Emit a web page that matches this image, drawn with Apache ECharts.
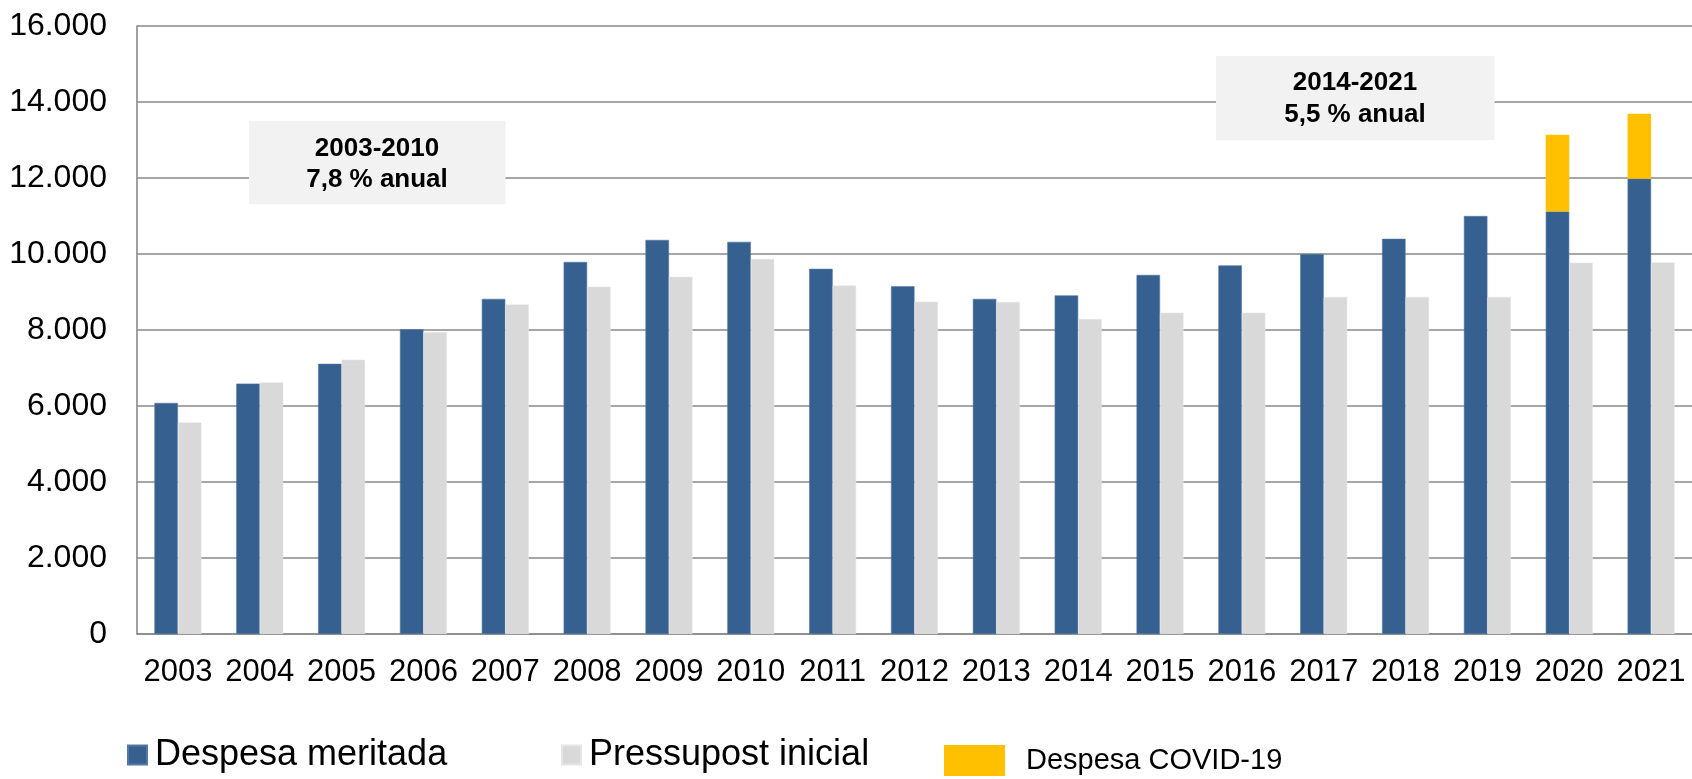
<!DOCTYPE html>
<html>
<head>
<meta charset="utf-8">
<script src="https://cdn.jsdelivr.net/npm/echarts@6/dist/echarts.min.js"></script>
<style>
html,body{margin:0;padding:0;background:#fff;}
#chart{width:1692px;height:779px;}
</style>
</head>
<body>
<div id="chart"></div>
<script>
const years = ['2003','2004','2005','2006','2007','2008','2009','2010','2011','2012','2013','2014','2015','2016','2017','2018','2019','2020','2021'];
const despesaMeritada = [6080,6590,7110,8020,8820,9790,10370,10320,9610,9150,8820,8910,9450,9700,10000,10400,11000,11120,11980];
const pressupostInicial = [5570,6620,7220,7940,8670,9140,9400,9870,9170,8745,8740,8290,8455,8455,8870,8870,8870,9770,9780];
const despesaCovid = ['-','-','-','-','-','-','-','-','-','-','-','-','-','-','-','-','-',2020,1710];
const yTicks = [0,2000,4000,6000,8000,10000,12000,14000,16000];
const notes = [
  {label:'2003-2010\n7,8 % anual'},
  {label:'2014-2021\n5,5 % anual'}
];

const FONT = '"Liberation Sans", Arial, sans-serif';
const chart = echarts.init(document.getElementById('chart'), null, {renderer:'canvas'});

function fmt(v){
  return String(v).replace(/\B(?=(\d{3})+(?!\d))/g, '.');
}

const noteText = {fill:'#000', fontSize:26, fontWeight:'bold', fontFamily:FONT, align:'center', verticalAlign:'middle', lineHeight:31.5};

chart.setOption({
  animation:false,
  backgroundColor:'#ffffff',
  textStyle:{fontFamily:FONT},
  grid:{left:137, right:-4, top:26, bottom:145, containLabel:false},
  xAxis:{
    type:'category',
    data:years,
    axisLine:{show:true, lineStyle:{color:'#898989', width:1.6}},
    axisTick:{show:false},
    axisLabel:{fontSize:31, color:'#000', fontFamily:FONT, margin:23, interval:0}
  },
  yAxis:{
    type:'value',
    min:yTicks[0], max:yTicks[yTicks.length-1], interval:2000,
    axisLine:{show:true, lineStyle:{color:'#898989', width:1.6}},
    axisTick:{show:false},
    splitLine:{show:true, lineStyle:{color:'#898989', width:1.6}},
    axisLabel:{fontSize:32, color:'#000', fontFamily:FONT, margin:30, formatter:fmt}
  },
  legend:[
    {data:['Despesa meritada'], left:127, top:737, padding:0, selectedMode:false,
     itemWidth:19, itemHeight:19, icon:'rect',
     textStyle:{fontSize:36, color:'#000', fontFamily:FONT, padding:[0,0,0,3], lineHeight:36}},
    {data:['Pressupost inicial'], left:561, top:737, padding:0, selectedMode:false,
     itemWidth:19, itemHeight:19, icon:'rect',
     textStyle:{fontSize:36, color:'#000', fontFamily:FONT, padding:[0,0,0,3], lineHeight:36}},
    {data:['Despesa COVID-19'], left:944, top:745, padding:0, selectedMode:false,
     itemWidth:61, itemHeight:31, icon:'rect',
     textStyle:{fontSize:29, color:'#000', fontFamily:FONT, padding:[22,0,0,16]}}
  ],
  series:[
    {name:'Despesa meritada', type:'bar', stack:'a', data:despesaMeritada,
     barWidth:23.5, barGap:'0%',
     itemStyle:{color:'#36608F', borderColor:'#5577a3', borderWidth:0.6}},
    {name:'Pressupost inicial', type:'bar', data:pressupostInicial,
     barWidth:23.5, barGap:'0%',
     itemStyle:{color:'#D9D9D9', borderColor:'#e6e6e6', borderWidth:0.6}},
    {name:'Despesa COVID-19', type:'bar', stack:'a', data:despesaCovid,
     barWidth:23.5, barGap:'0%',
     itemStyle:{color:'#FFC000'}}
  ],
  graphic:[
    {type:'rect', z:100, shape:{x:249, y:121, width:256.5, height:83.3}, style:{fill:'#F2F2F2'}},
    {type:'text', z:101, x:377, y:164.5, style:Object.assign({text:notes[0].label}, noteText)},
    {type:'rect', z:100, shape:{x:1216, y:56, width:278.6, height:84.3}, style:{fill:'#F2F2F2'}},
    {type:'text', z:101, x:1355, y:99, style:Object.assign({text:notes[1].label}, noteText)}
  ]
});
</script>
</body>
</html>
